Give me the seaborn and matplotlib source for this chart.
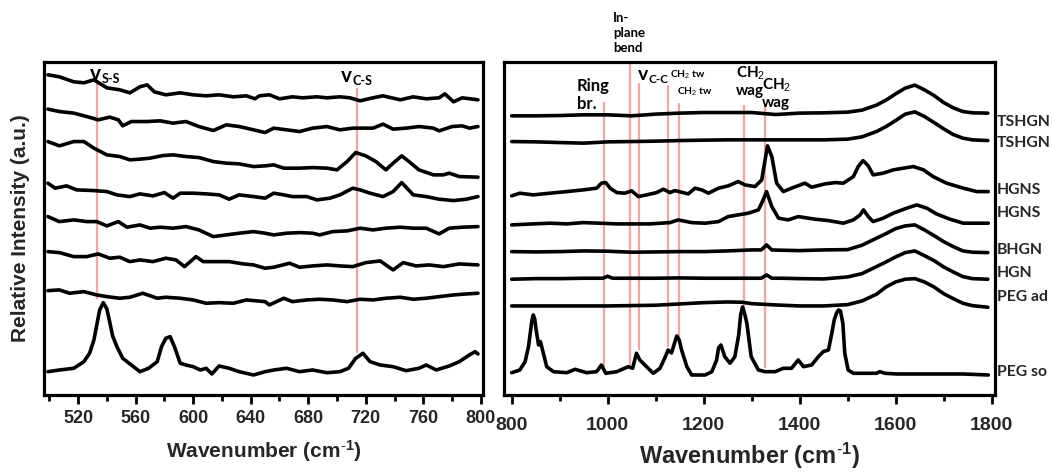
import matplotlib
matplotlib.use("Agg")
import matplotlib.pyplot as plt
import seaborn as sns

# ---------------------------------------------------------------------------
# Raman spectra, stacked with vertical offsets (intensity in a.u.)
# Low-wavenumber window (500-800 cm-1)
# ---------------------------------------------------------------------------
tshgn_a_lo_wn = [499, 507, 517, 524, 531, 540, 549, 556, 563, 568, 573, 581, 591, 600, 609, 618, 628, 637, 643, 646,
                 653, 660, 669, 676, 686, 693, 702, 709, 716, 725, 732, 744, 753, 762, 771, 775, 781, 787, 798]
tshgn_a_lo = [325, 323, 318, 317, 320, 312, 310, 307, 313, 315, 308, 305, 307, 305, 304, 305, 303, 304, 301, 304,
              305, 301, 303, 302, 303, 302, 303, 302, 299, 302, 304, 300, 303, 301, 302, 306, 298, 302, 300]

tshgn_b_lo_wn = [499, 507, 517, 526, 534, 542, 548, 551, 557, 568, 577, 586, 595, 604, 614, 623, 632, 642, 650,
                 656, 665, 674, 683, 693, 702, 711, 725, 732, 739, 748, 757, 767, 771, 780, 787, 792, 798]
tshgn_b_lo = [290.7, 288.3, 286.7, 283.3, 280, 282.7, 280, 274, 278.3, 278.3, 279, 276.7, 278.3, 273.3, 269.3, 275,
              273.3, 270, 267.3, 271.7, 270, 268.3, 271.7, 273.3, 270, 271.7, 271.7, 275.7, 270.7, 271.7, 273.3,
              271.7, 269, 273.3, 274, 271.7, 273.3]

hgns_a_lo_wn = [499, 507, 517, 524, 531, 540, 549, 556, 563, 570, 579, 586, 595, 604, 614, 623, 632, 642, 650,
                656, 663, 674, 683, 693, 700, 707, 713, 720, 727, 734, 739, 745, 750, 757, 767, 774, 778, 785, 798]
hgns_a_lo = [258.3, 254, 258.3, 258.3, 251.7, 245, 243.3, 240, 240.7, 241.7, 244.3, 245, 243.3, 242.3, 238.3, 236.7,
             236, 233.3, 234, 235, 231.7, 231.7, 232.3, 231.7, 230, 238.3, 247.3, 244, 238.3, 230, 236.7, 244, 238.3,
             230, 225, 225, 226.7, 223.3, 222.7]

hgns_b_lo_wn = [499, 504, 512, 519, 531, 540, 547, 556, 563, 572, 580, 586, 591, 600, 609, 618, 625, 632, 642, 650,
                656, 663, 669, 679, 686, 695, 702, 711, 716, 723, 732, 739, 745, 753, 762, 771, 781, 790, 798]
hgns_b_lo = [216.7, 211.7, 214, 210, 209.3, 208.3, 205, 203.3, 206, 204, 207.3, 201.7, 206.7, 206.7, 206, 205, 200.7,
             205, 203.3, 201.7, 206.7, 205, 203.3, 203.3, 200, 201.7, 205, 211.7, 210, 206.7, 203.3, 208.3, 217.3,
             205, 203.3, 200.7, 199.3, 200.7, 203.3]

bhgn_lo_wn = [499, 507, 517, 526, 533, 540, 548, 554, 563, 570, 577, 586, 595, 604, 614, 623, 632, 642, 650,
              656, 665, 674, 683, 688, 697, 707, 716, 725, 734, 744, 753, 762, 771, 778, 787, 798]
bhgn_lo = [183.3, 178.3, 180, 178.3, 178.3, 174, 178.3, 172.7, 175, 171.7, 172.7, 171.7, 173.3, 170, 163.3, 165, 166.7,
           168.3, 166.7, 165, 166.7, 167.3, 166.7, 165, 168.3, 169, 171.7, 170, 171.7, 172.7, 171.7, 171.7, 166,
           171.7, 172.7, 173.3]

hgn_lo_wn = [499, 507, 517, 526, 534, 542, 549, 556, 563, 572, 581, 588, 594, 602, 607, 616, 625, 635, 642, 650,
             656, 667, 674, 683, 693, 702, 711, 720, 730, 739, 746, 755, 764, 774, 785, 798]
hgn_lo = [148.3, 147.3, 143.3, 143.3, 146, 141.7, 142.7, 138.3, 140, 138.3, 141.7, 140, 133.3, 143.3, 138.3, 138.3,
          138.3, 136, 135, 131.7, 132.7, 136.7, 132.7, 134, 135, 134, 133.3, 137.3, 139, 130, 137.3, 134, 135, 133.3,
          136, 135]

peg_ad_lo_wn = [499, 507, 514, 524, 533, 540, 549, 556, 565, 575, 581, 591, 600, 609, 618, 628, 637, 650,
                653, 663, 669, 679, 688, 697, 707, 716, 725, 734, 744, 753, 762, 771, 781, 790, 798]
peg_ad_lo = [109.3, 110, 106.7, 108.3, 105, 103.3, 101.7, 102.7, 106.7, 101.7, 102.7, 101.7, 100, 96.7, 97.3, 96.7,
             100, 98.3, 95, 101.7, 98.3, 100, 100.7, 100, 98.3, 100.7, 100, 101.7, 102.7, 100.7, 101.7, 103.3, 105,
             106, 106.7]

peg_so_lo_wn = [499, 507, 517, 524, 528, 531, 533, 535, 537.5, 540, 542, 544, 547, 551, 557, 563, 569, 575, 578, 581,
                584, 587, 591, 595, 600, 605, 609, 613, 618, 625, 632, 642, 650, 656, 665, 674, 683, 693, 702, 708,
                713, 718, 723, 730, 739, 748, 757, 762, 769, 778, 785, 792, 796, 798]
peg_so_lo = [28.3, 30, 31.7, 38.3, 46.7, 60, 75, 90, 97.3, 91, 78, 64, 53.3, 41.7, 35, 28.3, 31.7, 38.3, 53.3, 61.7,
             63.3, 53.3, 36.7, 35, 33.3, 30, 31.7, 26, 34, 31.7, 28.3, 25, 28.3, 30, 31.7, 28.3, 30, 27.3, 28.3, 31.7,
             41.7, 46.7, 38.3, 35, 33.3, 29.3, 31.7, 35, 30, 34, 38.3, 45, 48.3, 46]

# ---------------------------------------------------------------------------
# High-wavenumber window (800-1800 cm-1)
# ---------------------------------------------------------------------------
tshgn_a_hi_wn = [800, 850, 900, 950, 1000, 1050, 1100, 1150, 1200, 1250, 1300, 1350, 1400, 1450, 1500, 1530,
                 1560, 1580, 1600, 1620, 1640, 1660, 1680, 1700, 1720, 1740, 1760, 1792]
tshgn_a_hi = [284, 284, 284.3, 285, 285, 284, 285.7, 286.7, 287.3, 287.3, 287.3, 285.3, 286.7, 287, 287.7, 289.7,
              294.7, 299.7, 306, 311.7, 314.7, 310, 304.3, 297.3, 292, 288.3, 287, 286.7]

tshgn_b_hi_wn = [800, 850, 900, 950, 1000, 1050, 1100, 1150, 1200, 1250, 1300, 1350, 1400, 1450, 1500, 1530,
                 1560, 1580, 1600, 1620, 1640, 1660, 1680, 1700, 1720, 1740, 1760, 1792]
tshgn_b_hi = [258.3, 258, 257.3, 256.7, 258, 258.3, 258.7, 259.3, 259.7, 260, 260, 260, 260, 260, 260.7, 263,
              268.3, 273.3, 279.3, 285.7, 288, 283.3, 277.3, 271, 265.3, 261.7, 260, 259.3]

hgns_a_hi_wn = [800, 817, 845, 880, 915, 949, 977, 987, 996, 1005, 1019, 1036, 1050, 1064, 1081, 1102, 1116, 1130,
                1140, 1168, 1182, 1196, 1210, 1231, 1251, 1272, 1286, 1307, 1321, 1328, 1333, 1342, 1352, 1366, 1383,
                1411, 1425, 1453, 1474, 1491, 1512, 1522, 1532, 1543, 1553, 1574, 1595, 1616, 1637, 1658, 1678, 1706,
                1741, 1769, 1793]
hgns_a_hi = [204, 206.7, 205, 206.7, 208.3, 210, 211.7, 216.7, 217.3, 211.7, 207.3, 206.7, 209, 203.3, 205, 207.3,
             210.7, 207.3, 209.3, 206, 211.7, 210, 206.7, 211.7, 214, 218.3, 215, 213.3, 220, 240, 254, 243.3, 216.7,
             208.3, 211.7, 216.7, 212.7, 216, 217.3, 216.7, 223.3, 233.3, 239.3, 234, 225, 226.7, 230, 231.7, 233.3,
             230, 223.3, 216.7, 211.7, 208.3, 208.3]

hgns_b_hi_wn = [800, 845, 880, 915, 949, 984, 1019, 1053, 1088, 1130, 1147, 1175, 1203, 1231, 1251, 1272, 1293,
                1314, 1324, 1331, 1342, 1356, 1376, 1397, 1432, 1460, 1491, 1512, 1526, 1533, 1543, 1553, 1574, 1595,
                1623, 1644, 1665, 1685, 1713, 1741, 1769, 1793]
hgns_b_hi = [175, 176, 176.7, 176, 177.3, 176.7, 176, 176, 176, 177.3, 180, 177.3, 176.7, 178.3, 183.3, 185, 186.7,
             190, 200, 208.3, 193.3, 181.7, 180, 183.3, 180.7, 179.3, 176.7, 180, 185, 190, 183.3, 178.3, 181.7,
             186.7, 191.7, 195, 191.7, 186, 180.7, 176.7, 176.7, 176.7]

bhgn_hi_wn = [800, 850, 900, 950, 1000, 1050, 1100, 1150, 1200, 1250, 1300, 1320, 1331, 1342, 1360, 1400, 1450,
              1500, 1530, 1560, 1580, 1600, 1620, 1640, 1660, 1680, 1700, 1720, 1740, 1760, 1792]
bhgn_hi = [148.3, 148, 148.3, 149, 148.7, 147.7, 148, 148.3, 148.3, 149, 150, 150, 155, 150, 149.7, 149.3, 150,
           150.3, 154.7, 161.7, 166.3, 171.3, 174, 175, 170, 164.3, 158.3, 153.3, 149, 147.7, 147.3]

hgn_hi_wn = [800, 850, 900, 950, 990, 1000, 1010, 1050, 1100, 1150, 1200, 1250, 1300, 1320, 1331, 1342, 1360, 1400,
             1450, 1500, 1530, 1560, 1580, 1600, 1620, 1640, 1660, 1680, 1700, 1720, 1740, 1760, 1792]
hgn_hi = [120.7, 121.3, 121.3, 121.7, 121.7, 123.7, 121.7, 121.7, 121.7, 122, 121.7, 121.7, 121.7, 121.7, 125, 121.7,
          121.7, 121.3, 121, 123, 126.3, 133.3, 138, 143, 147.3, 149, 144.3, 139.3, 133, 128, 123.3, 121.3, 120.7]

peg_ad_hi_wn = [800, 900, 1000, 1100, 1150, 1200, 1250, 1280, 1300, 1350, 1400, 1450, 1500, 1530, 1560, 1580, 1600,
                1620, 1640, 1660, 1680, 1700, 1720, 1740, 1760, 1792]
peg_ad_hi = [94, 94, 94, 94.7, 96, 97.3, 98, 97.7, 96.3, 95, 94, 94, 95.3, 99, 105.7, 113, 118, 120.7, 121.3, 118,
             113, 106.3, 101.3, 96.7, 94.3, 92.7]

peg_so_hi_wn = [800, 817, 828, 835, 839, 842, 845, 848, 851, 856, 860, 866, 873, 887, 915, 932, 956, 977, 987, 996,
                1019, 1043, 1052, 1060, 1067, 1081, 1095, 1109, 1119, 1126, 1133, 1140, 1144, 1149, 1154, 1165, 1175,
                1203, 1217, 1227, 1231, 1236, 1244, 1255, 1265, 1273, 1277, 1281, 1285, 1290, 1299, 1314, 1328, 1349,
                1366, 1383, 1397, 1408, 1425, 1439, 1449, 1460, 1467, 1472, 1477, 1481, 1485, 1490, 1494, 1501, 1512,
                1560, 1567, 1578, 1602, 1671, 1741, 1793]
peg_so_hi = [27.3, 30, 38.3, 53.3, 68, 79, 85, 81, 70, 55, 58.3, 46.7, 33.3, 28.3, 27.3, 30.7, 27.3, 28.3, 35, 26.7,
             28.3, 33.3, 31.7, 46.7, 40, 33.3, 26.7, 31.7, 42, 50, 47, 58, 64, 60, 50, 33.3, 25, 25, 28.3, 40, 52, 55,
             43.3, 36.7, 43.3, 65, 85, 93, 87, 76.7, 43.3, 30, 28.3, 28.3, 31.7, 31.7, 40, 33.3, 35, 43.3, 48.3, 50,
             66.7, 80, 87, 90, 89, 76.7, 46.7, 30, 26.7, 26.7, 28.3, 26.7, 26, 26, 26, 25]

sample_names = ["TSHGN", "TSHGN", "HGNS", "HGNS", "BHGN", "HGN", "PEG ad", "PEG so"]
sample_label_y = [278.3, 257.3, 210, 186.7, 150, 126.7, 102.7, 28.3]

# Band markers: (position cm-1, lower end, upper end)
lo_band_pos = [533, 714]
lo_band_bottom = [100.7, 47.3]
lo_band_top = [320, 311.7]

hi_band_pos = [992, 1046, 1066, 1125, 1148, 1284, 1328]
hi_band_bottom = [33.3, 35, 50, 53.3, 61.7, 93.3, 31.7]
hi_band_top = [298.3, 338.3, 316.7, 315, 296.7, 295, 296.7]

lo_ticks_major = [520, 560, 600, 640, 680, 720, 760, 800]
lo_ticks_minor = [500, 540, 580, 620, 660, 700, 740, 780]
hi_ticks_major = [800, 1000, 1200, 1400, 1600, 1800]
hi_ticks_minor = [900, 1100, 1300, 1500, 1700]

# ---------------------------------------------------------------------------
sns.set_theme(style="ticks")
plt.rcParams.update({
    "font.family": ["Liberation Sans", "DejaVu Sans"],
    "mathtext.fontset": "custom",
    "mathtext.rm": "Liberation Sans",
    "mathtext.bf": "Liberation Sans:bold",
    "mathtext.it": "Liberation Sans:italic",
})

W, H = 1052, 472
fig = plt.figure(figsize=(W / 100, H / 100), dpi=100)
ax_lo = fig.add_axes([44 / W, 77.5 / H, 439 / W, 333 / H])
ax_hi = fig.add_axes([504 / W, 77.5 / H, 491 / W, 333 / H])

lo_traces = [(tshgn_a_lo_wn, tshgn_a_lo), (tshgn_b_lo_wn, tshgn_b_lo), (hgns_a_lo_wn, hgns_a_lo),
             (hgns_b_lo_wn, hgns_b_lo), (bhgn_lo_wn, bhgn_lo), (hgn_lo_wn, hgn_lo),
             (peg_ad_lo_wn, peg_ad_lo), (peg_so_lo_wn, peg_so_lo)]
hi_traces = [(tshgn_a_hi_wn, tshgn_a_hi), (tshgn_b_hi_wn, tshgn_b_hi), (hgns_a_hi_wn, hgns_a_hi),
             (hgns_b_hi_wn, hgns_b_hi), (bhgn_hi_wn, bhgn_hi), (hgn_hi_wn, hgn_hi),
             (peg_ad_hi_wn, peg_ad_hi), (peg_so_hi_wn, peg_so_hi)]

band_color = "#f5a3a3"
ax_lo.vlines(lo_band_pos, lo_band_bottom, lo_band_top, color=band_color, lw=1.6, zorder=1)
ax_hi.vlines(hi_band_pos, hi_band_bottom, hi_band_top, color=band_color, lw=1.6, zorder=1, clip_on=False)

for ax, traces in ((ax_lo, lo_traces), (ax_hi, hi_traces)):
    for wn, inten in traces:
        sns.lineplot(x=wn, y=inten, ax=ax, color="black", linewidth=2.6, sort=False,
                     estimator=None, zorder=2)
        ax.lines[-1].set_solid_capstyle("round")
        ax.lines[-1].set_solid_joinstyle("round")

ax_lo.set_xlim(496.3, 801.5)
ax_hi.set_xlim(784, 1807)
for ax in (ax_lo, ax_hi):
    ax.set_ylim(5.5, 338.3)
    ax.set_yticks([])
    for sp in ax.spines.values():
        sp.set_visible(True)
        sp.set_color("black")
        sp.set_linewidth(2.3)
    ax.tick_params(axis="x", which="major", direction="out", length=6.5, width=2.0, color="black")
    ax.tick_params(axis="x", which="minor", direction="out", length=4, width=2.0, color="black")

ax_lo.set_xticks(lo_ticks_major, [str(t) for t in lo_ticks_major], fontsize=13, fontweight="bold")
ax_lo.set_xticks(lo_ticks_minor, minor=True)
ax_hi.set_xticks(hi_ticks_major, [str(t) for t in hi_ticks_major], fontsize=14, fontweight="bold")
ax_hi.set_xticks(hi_ticks_minor, minor=True)
ax_lo.tick_params(axis="x", which="major", pad=4.5)
ax_hi.tick_params(axis="x", which="major", pad=9.5)

xlabel_text = r"Wavenumber (cm$^{\mathbf{\text{-}1}}$)"
ax_lo.set_xlabel(xlabel_text, fontsize=15, fontweight="bold", labelpad=8)
ax_hi.set_xlabel(xlabel_text, fontsize=17, fontweight="bold", labelpad=5)
ax_lo.set_ylabel("Relative Intensity (a.u.)", fontsize=15, fontweight="bold", labelpad=10)

# Sample names next to the high-wavenumber panel
ytrans = ax_hi.get_yaxis_transform()
for name, yv in zip(sample_names, sample_label_y):
    ax_hi.text(1.004, yv, name, transform=ytrans, ha="left", va="center", fontsize=11.3,
               fontweight="bold", family="Lato", clip_on=False)

# Band assignments
ann = dict(family="Lato", fontweight="bold", clip_on=False, color="black")


def stretch_label(ax, x, y, sub, size_v=15, size_sub=9, dx=8.5, dy=-2.5):
    ax.annotate("v", xy=(x, y), ha="left", va="baseline", fontsize=size_v, **ann)
    ax.annotate(sub, xy=(x, y), xytext=(dx, dy), textcoords="offset points",
                ha="left", va="baseline", fontsize=size_sub, **ann)


stretch_label(ax_lo, 528.3, 320, "S-S")
stretch_label(ax_lo, 702.9, 318.3, "C-S")
stretch_label(ax_hi, 1063.8, 320, "C-C", size_v=14, size_sub=8.5, dx=7.5)

ax_hi.text(936, 322, "Ring\nbr.", ha="left", va="top", fontsize=12, linespacing=1.15, **ann)
ax_hi.text(1011, 388, "In-\nplane\nbend", ha="left", va="top", fontsize=9.5, linespacing=1.3, **ann)
ax_hi.text(1130, 332, r"CH$_2$ tw", ha="left", va="top", fontsize=7.5, **ann)
ax_hi.text(1144, 315, r"CH$_2$ tw", ha="left", va="top", fontsize=7.5, **ann)
ax_hi.text(1267, 335, "CH$_2$\nwag", ha="left", va="top", fontsize=11, linespacing=1.2, **ann)
ax_hi.text(1321, 323, "CH$_2$\nwag", ha="left", va="top", fontsize=11, linespacing=1.2, **ann)

fig.savefig("out.png", dpi=100)
